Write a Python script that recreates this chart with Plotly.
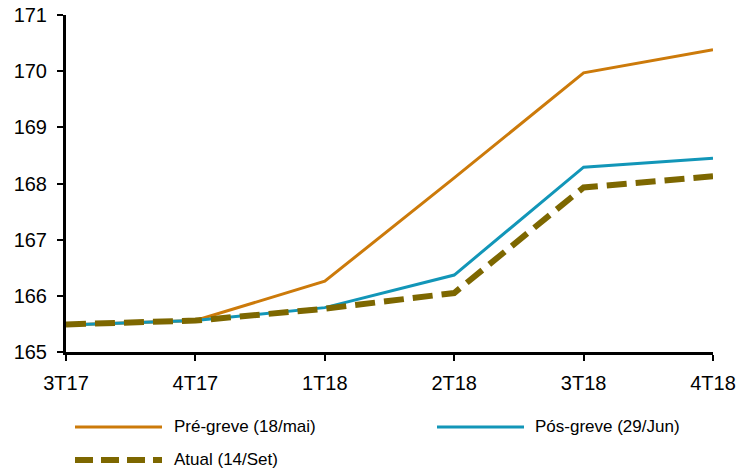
import plotly.graph_objects as go

# Quarterly projections
quarters = ["3T17", "4T17", "1T18", "2T18", "3T18", "4T18"]
pre_greve = [165.48, 165.56, 166.26, 168.10, 169.97, 170.38]
pos_greve = [165.48, 165.56, 165.79, 166.37, 168.29, 168.45]
atual = [165.49, 165.56, 165.77, 166.05, 167.93, 168.13]

series_names = ["Pré-greve (18/mai)", "Pós-greve (29/Jun)", "Atual (14/Set)"]
y_ticks = [165, 166, 167, 168, 169, 170, 171]

ORANGE = "#CC7A0A"
BLUE = "#1296B8"
OLIVE = "#7D6700"
FONT = "Liberation Sans, Arial, sans-serif"

W, H = 740, 469
ML, MR, MT, MB = 66, 27, 15, 117
PW, PH = W - ML - MR, H - MT - MB


def px(x):
    return (x - ML) / PW


def py(y):
    return 1 - (y - MT) / PH


fig = go.Figure()
fig.add_trace(go.Scatter(x=quarters, y=pre_greve, mode="lines", name=series_names[0],
                         line=dict(color=ORANGE, width=3), showlegend=False))
fig.add_trace(go.Scatter(x=quarters, y=pos_greve, mode="lines", name=series_names[1],
                         line=dict(color=BLUE, width=3), showlegend=False))
fig.add_trace(go.Scatter(x=quarters, y=atual, mode="lines", name=series_names[2],
                         line=dict(color=OLIVE, width=6, dash="20px,9px"), showlegend=False))

# Legend drawn as paper-referenced samples and labels
legend_items = [
    (series_names[0], dict(color=ORANGE, width=3), 75, 162, 427, 172),
    (series_names[1], dict(color=BLUE, width=3), 437, 524, 427, 533),
    (series_names[2], dict(color=OLIVE, width=6, dash="18px,8px"), 75, 162, 460, 172),
]
shapes = []
annotations = []
for name, line, x0, x1, yy, tx in legend_items:
    shapes.append(dict(type="line", xref="paper", yref="paper",
                       x0=px(x0), x1=px(x1), y0=py(yy), y1=py(yy), line=line))
    annotations.append(dict(text=name, xref="paper", yref="paper", x=px(tx), y=py(yy - 1),
                            xanchor="left", yanchor="middle", showarrow=False,
                            font=dict(family=FONT, size=17, color="#000000")))

fig.update_layout(
    width=W, height=H,
    margin=dict(l=ML, r=MR, t=MT, b=MB, autoexpand=False),
    paper_bgcolor="white", plot_bgcolor="white",
    font=dict(family=FONT, size=20, color="#000000"),
    shapes=shapes, annotations=annotations,
    showlegend=False,
)
fig.update_xaxes(
    type="category", range=[0, len(quarters) - 1], automargin=False,
    showgrid=False, zeroline=False,
    showline=True, linecolor="black", linewidth=3,
    ticks="outside", ticklen=6, tickwidth=2, tickcolor="black",
    ticklabelstandoff=5,
    tickfont=dict(family=FONT, size=20),
)
fig.update_yaxes(
    range=[165, 171], tickvals=y_ticks, automargin=False,
    showgrid=False, zeroline=False,
    showline=True, linecolor="black", linewidth=3,
    ticks="outside", ticklen=6, tickwidth=2, tickcolor="black",
    ticklabelstandoff=6,
    tickfont=dict(family=FONT, size=20),
)

fig.write_html("out.html")
